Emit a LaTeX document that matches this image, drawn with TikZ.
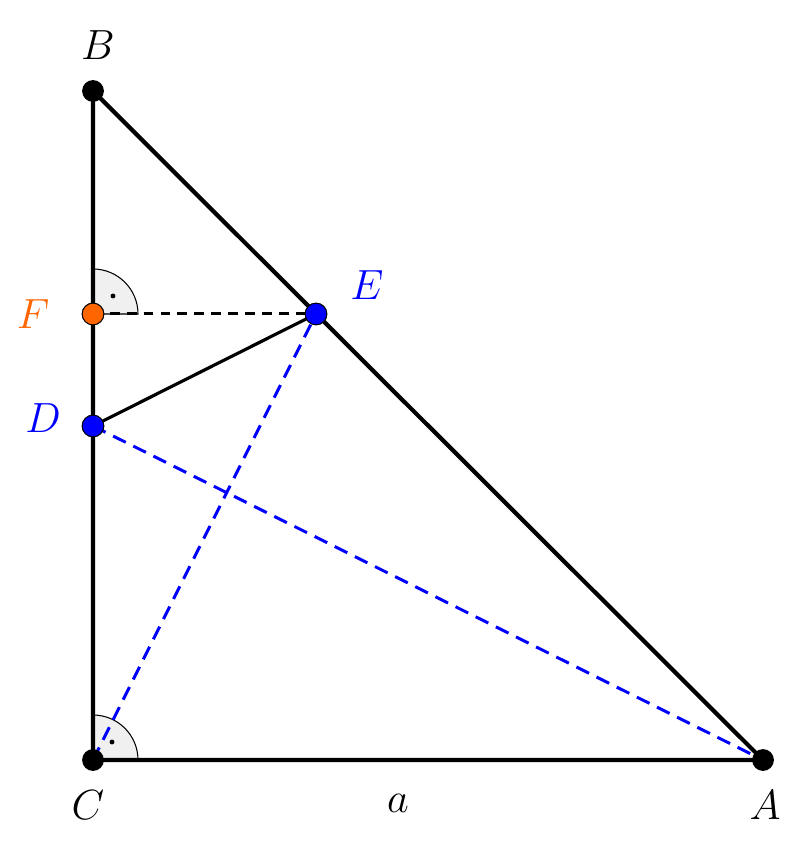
\documentclass[tikz,border=0pt]{standalone}
\definecolor{ptblue}{RGB}{0,0,255}
\definecolor{ptorange}{RGB}{255,102,0}
\definecolor{anglefill}{RGB}{240,240,240}
\tikzset{
  side/.style={line width=1.2pt},
  seg/.style={line width=0.9pt},
  blackdash/.style={line width=0.85pt, dash pattern=on 2.8pt off 2pt},
  bluedash/.style={line width=0.85pt, ptblue, dash pattern=on 4pt off 2.4pt},
  angmark/.style={fill=anglefill, draw=black, line width=0.3pt},
  pt/.style={circle, inner sep=0pt, minimum size=6.2pt},
  blackpt/.style={pt, fill=black},
  colpt/.style={pt, draw=black, line width=0.3pt},
  lbl/.style={font=\fontsize{12.5}{15}\selectfont}
}
\begin{document}
\begin{tikzpicture}[x=0.01cm, y=-0.01cm]
\useasboundingbox (0,0) rectangle (800,865);
\coordinate (c) at (93,760);
\coordinate (a) at (763,760);
\coordinate (b) at (93,91);
\coordinate (f) at (93,314);
\coordinate (e) at (316,314);
\coordinate (d) at (93,426);
% angle markers
\filldraw[angmark] (c) -- ++(45,0) arc[start angle=0, end angle=-90, radius=45] -- cycle;
\filldraw[angmark] (f) -- ++(45,0) arc[start angle=0, end angle=-90, radius=45] -- cycle;
\fill (112,742) circle (0.7pt);
\fill (113,296) circle (0.7pt);
% lines
\draw[side] (c) -- (a) -- (b) -- cycle;
\draw[blackdash] (f) -- (e);
\draw[seg] (d) -- (e);
\draw[bluedash] (c) -- (e);
\draw[bluedash] (d) -- (a);
% points
\node[blackpt] (C) at (c) {};
\node[blackpt] (A) at (a) {};
\node[blackpt] (B) at (b) {};
\node[colpt, fill=ptorange] (F) at (f) {};
\node[colpt, fill=ptblue] (D) at (d) {};
\node[colpt, fill=ptblue] (E) at (e) {};
% labels
\node[lbl] (lB) at (98,45) {$B$};
\node[lbl] (lC) at (88,805) {$C$};
\node[lbl] (lA) at (765,805) {$A$};
\node[lbl] (la) at (398,803) {$a$};
\node[lbl, text=ptorange] (lF) at (33,314) {$F$};
\node[lbl, text=ptblue] (lD) at (43,418) {$D$};
\node[lbl, text=ptblue] (lE) at (367,285) {$E$};
\end{tikzpicture}
\end{document}
